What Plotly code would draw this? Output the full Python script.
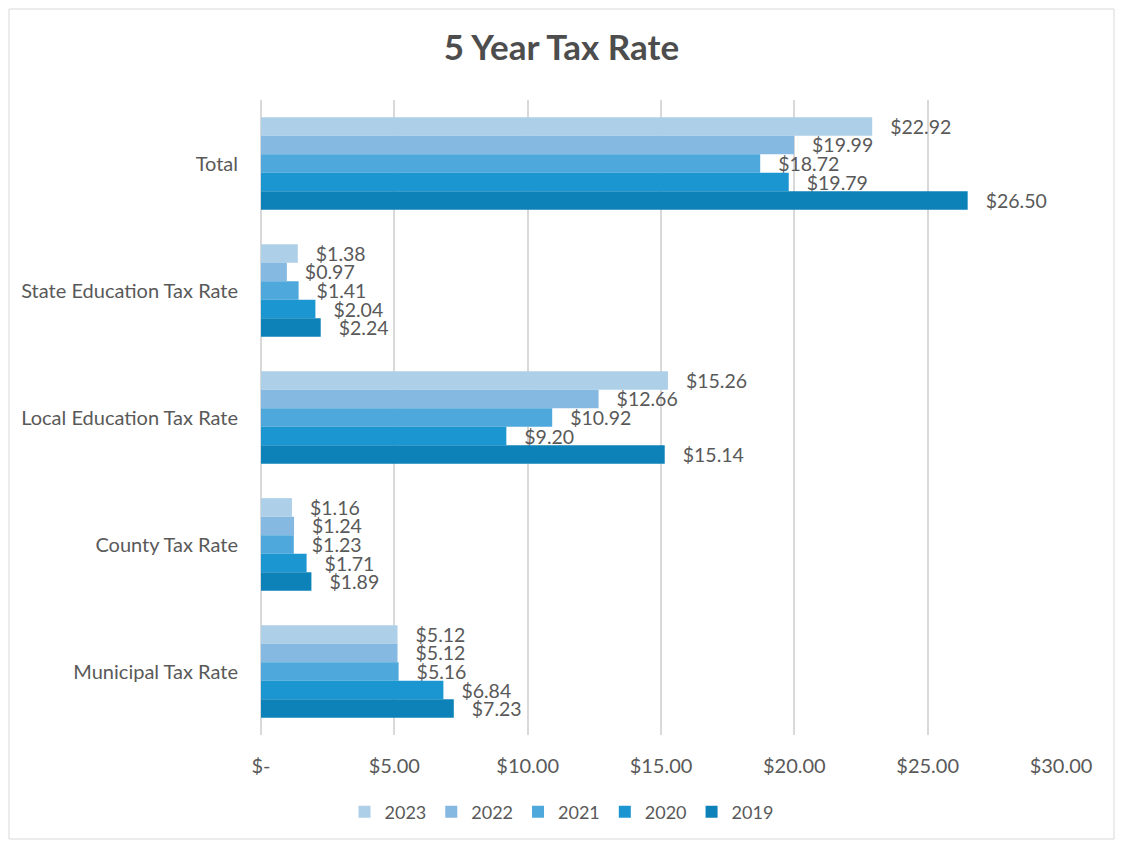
import plotly.graph_objects as go

categories = ["Total", "State Education Tax Rate", "Local Education Tax Rate", "County Tax Rate", "Municipal Tax Rate"]
years = ["2023", "2022", "2021", "2020", "2019"]
values_2023 = [22.92, 1.38, 15.26, 1.16, 5.12]
values_2022 = [19.99, 0.97, 12.66, 1.24, 5.12]
values_2021 = [18.72, 1.41, 10.92, 1.23, 5.16]
values_2020 = [19.79, 2.04, 9.20, 1.71, 6.84]
values_2019 = [26.50, 2.24, 15.14, 1.89, 7.23]
series = [values_2023, values_2022, values_2021, values_2020, values_2019]
colors = ["#AECFE8", "#86B9E1", "#4EA8DC", "#1B96D1", "#0C82B8"]
tick_vals = [0, 5, 10, 15, 20, 25, 30]
tick_text = ["$-", "$5.00", "$10.00", "$15.00", "$20.00", "$25.00", "$30.00"]

FONT = "Lato, 'Open Sans', sans-serif"
TXT = "#595959"

fig = go.Figure()
for yr, vals, col in zip(years, series, colors):
    fig.add_trace(go.Bar(
        y=categories, x=vals, name=yr, orientation="h",
        marker=dict(color=col, line=dict(width=0)),
        text=["\u00a0\u00a0\u00a0$%.2f" % v for v in vals],
        textposition="outside", constraintext="none", cliponaxis=False,
        textfont=dict(family=FONT, size=19.5, color=TXT),
        hoverinfo="x+name",
    ))

# page body has an 8px margin, so the figure is sized to fit inside
W, H = 1107, 832
ml, mr, mt, mb = 253, 54, 92, 105
pw, ph = W - ml - mr, H - mt - mb

fig.update_layout(
    width=W, height=H,
    margin=dict(l=ml, r=mr, t=mt, b=mb),
    paper_bgcolor="white", plot_bgcolor="white",
    barmode="group", bargap=0.27, bargroupgap=0,
    font=dict(family=FONT, size=20, color=TXT),
    title=dict(text="<b>5 Year Tax Rate</b>", x=0.5, xref="container", xanchor="center",
               y=1 - 40 / H, yref="container", yanchor="middle",
               font=dict(family=FONT, size=35, color="#4D4D4D")),
    legend=dict(orientation="h", x=0.5, xref="container", xanchor="center",
                y=1 - 804 / H, yref="container", yanchor="middle",
                font=dict(family=FONT, size=18, color=TXT), traceorder="normal",
                itemwidth=30, itemsizing="constant"),
    showlegend=True,
)
fig.update_xaxes(range=[0, 30], tickvals=tick_vals, ticktext=tick_text,
                 showgrid=True, gridcolor="#D9D9D9", gridwidth=2,
                 zeroline=True, zerolinecolor="#D9D9D9", zerolinewidth=2,
                 showline=False, ticks="", ticklabelstandoff=17,
                 tickfont=dict(family=FONT, size=20, color=TXT), fixedrange=True)
fig.update_yaxes(autorange="reversed", showgrid=False, showline=False, ticks="",
                 ticklabelstandoff=22, tickfont=dict(family=FONT, size=20, color=TXT))

# outer chart border
fig.add_shape(type="rect", xref="paper", yref="paper",
              x0=(-ml + 1) / pw, x1=1 + (mr - 1) / pw,
              y0=(-mb + 1) / ph, y1=1 + (mt - 1) / ph,
              line=dict(color="#D9D9D9", width=1), fillcolor="rgba(0,0,0,0)", layer="below")

fig.write_html("out.html")
